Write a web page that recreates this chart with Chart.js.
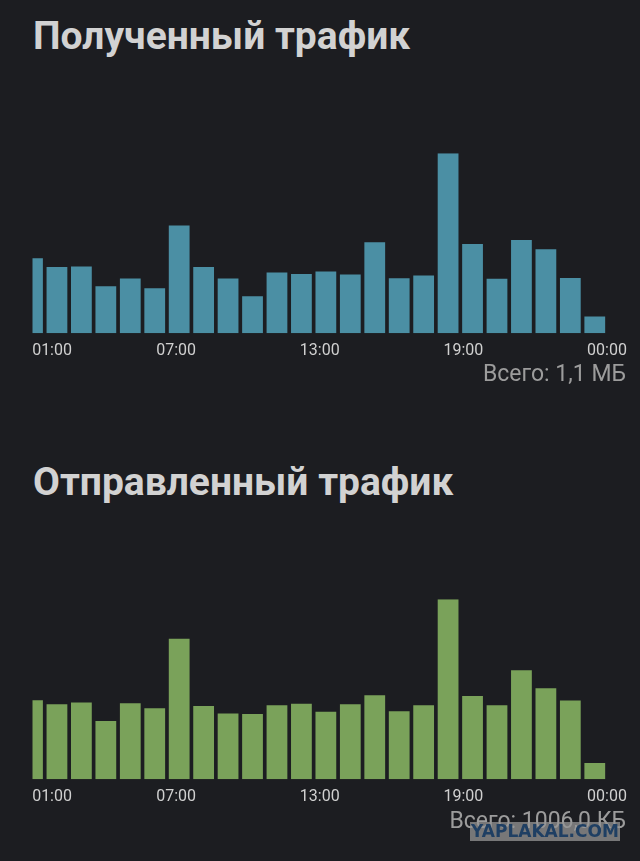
<!DOCTYPE html>
<html>
<head>
<meta charset="utf-8">
<script src="https://cdn.jsdelivr.net/npm/chart.js@4.4.1/dist/chart.umd.min.js"></script>
<style>
  html, body { margin:0; padding:0; background:#1c1d21; }
  body { width:640px; height:861px; position:relative; overflow:hidden; font-family: Roboto, "Noto Sans", sans-serif; }
  .title { position:absolute; left:33px; color:#d2d2d2; font-weight:700; font-size:39px; line-height:1; white-space:nowrap; }
  .total { position:absolute; right:14px; color:#9c9c9c; font-size:23px; line-height:1; white-space:nowrap; }
  .box { position:absolute; left:0; width:640px; height:400px; }
  .wm { position:absolute; left:470px; top:822px; width:150px; height:19px; background:rgba(150,150,150,0.75); color:#1f3f63; font-weight:900; font-size:17px; line-height:19px; text-align:center; font-family: "DejaVu Sans", sans-serif; }
</style>
</head>
<body>
<div class="title" style="top:17px">Полученный трафик</div>
<div class="box" style="top:0px"><canvas id="c1"></canvas></div>
<div class="total" style="top:362px">Всего: 1,1 МБ</div>

<div class="title" style="top:463px">Отправленный трафик</div>
<div class="box" style="top:446px"><canvas id="c2"></canvas></div>
<div class="total" style="top:809px">Всего: 1006,0 КБ</div>
<div class="wm">YAPLAKAL.COM</div>

<script>
// Hourly traffic, KB (bar 0 = 01:00 ... bar 23 = 00:00)
const hours = ["01","02","03","04","05","06","07","08","09","10","11","12",
               "13","14","15","16","17","18","19","20","21","22","23","00"];
const receivedKB = [51.6,45.6,45.9,32.3,37.6,31.0,74.1,45.6,37.6,25.5,41.8,40.8,
                    42.5,40.4,62.6,37.8,39.7,123.6,61.4,37.4,64.0,57.8,38.0,11.5];
const sentKB = [41.2,39.1,40.0,30.4,39.6,37.0,73.1,38.2,34.2,34.0,38.6,39.3,
                35.1,39.1,43.8,35.4,38.6,93.7,43.3,38.6,56.8,47.4,41.0,8.5];
const tickLabels = ["01:00","07:00","13:00","19:00","00:00"];

function makeChart(id, values, color) {
  const xMax = 23.5;
  const firstShift = 0.8; // first label kept inside the plot
  new Chart(document.getElementById(id), {
    type: 'bar',
    data: {
      datasets: [{
        data: values.map((v, i) => ({ x: i, y: v })),
        backgroundColor: color,
        borderWidth: 0,
        categoryPercentage: 1.0,
        barPercentage: 0.85
      }]
    },
    options: {
      responsive: true,
      maintainAspectRatio: false,
      animation: false,
      events: [],
      layout: { padding: { left: 32.5, right: 33, top: 153.3, bottom: 26.7 } },
      plugins: { legend: { display: false }, tooltip: { enabled: false }, title: { display: false } },
      scales: {
        x: {
          type: 'linear',
          offset: false,
          min: 0,
          max: xMax,
          grid: { display: false, offset: false },
          border: { display: false },
          afterBuildTicks: (scale) => {
            const n = tickLabels.length;
            scale.ticks = tickLabels.map((l, i) => ({
              value: i === 0 ? firstShift : (xMax * i / (n - 1))
            }));
          },
          afterFit: (scale) => { scale.height = 40; },
          ticks: {
            autoSkip: false,
            maxRotation: 0,
            color: '#d0d0d0',
            padding: 0,
            font: { family: 'Roboto', size: 16 },
            callback: (v, i) => tickLabels[i]
          }
        },
        y: {
          display: false,
          min: 0,
          max: Math.max(...values)
        }
      }
    }
  });
}

makeChart('c1', receivedKB, '#4b8fa4');
makeChart('c2', sentKB, '#7aa25a');
</script>
</body>
</html>
